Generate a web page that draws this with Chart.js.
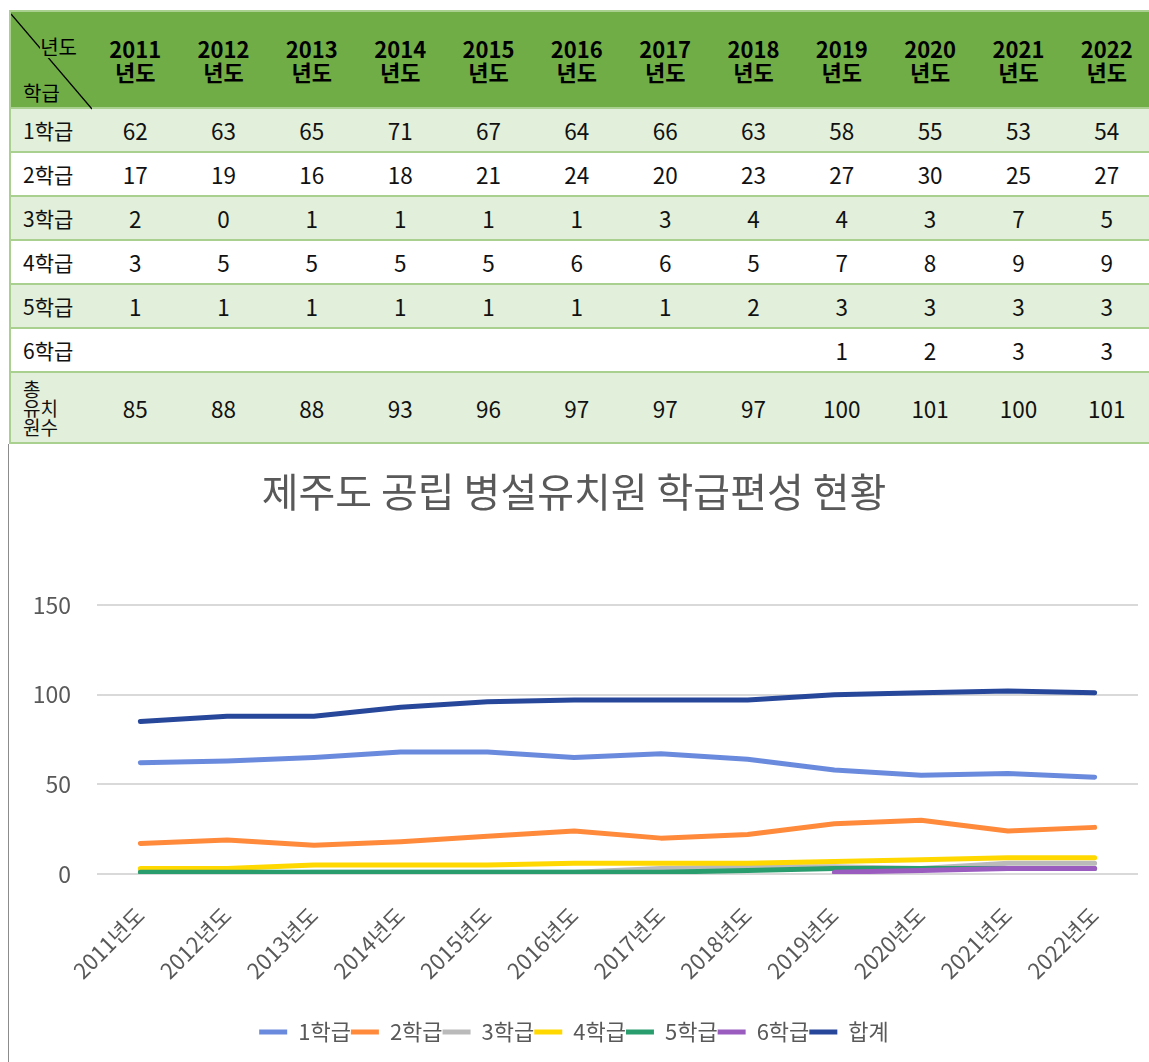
<!DOCTYPE html>
<html lang="ko">
<head>
  <meta charset="UTF-8" />
  <title>제주도 공립 병설유치원 학급편성 현황</title>
  <script src="https://cdn.jsdelivr.net/npm/chart.js"></script>
  <style>
    body { margin: 0; background: #fff; font-family: "Noto Sans CJK KR", sans-serif; width: 1149px; height: 1062px; overflow: hidden; position: relative; }
    table { position: absolute; left: 9px; top: 10px; width: 1142px; border-collapse: collapse; table-layout: fixed; }
    td, th { padding: 0; border-top: 2px solid #a9d08e; border-bottom: 2px solid #a9d08e; font-size: 22.5px; color: #111; text-align: center; }
    table { border-left: 2px solid #a9d08e; }
    th { background: #70ad47; height: 95px; font-weight: bold; line-height: 23px; color: #000; font-size: 22px; }
    tr.g td { background: #e2efda; }
    td { height: 42px; }
    td.lab { text-align: left; padding-left: 12px; font-size: 21px; }
    tr.tot td { height: 69px; }
    td.stack { font-size: 19px; line-height: 19px; }
    th.corner { position: relative; font-weight: normal; font-size: 20px; }
    th.corner svg { position: absolute; left: 0; top: 0; }
    th.corner .yr { position: absolute; right: 14px; top: 24px; background: #70ad47; line-height: 22px; }
    th.corner .cls { position: absolute; left: 12px; top: 70px; line-height: 22px; }
    #frame { position: absolute; left: 8px; top: 444px; width: 1141px; height: 618px; border-left: 1px solid #8c8c8c; }
    #chart { position: absolute; left: 1px; top: 0; }
  </style>
</head>
<body>
  <table id="tbl">
    <colgroup><col style="width:81px"></colgroup>
    <thead><tr id="head"><th class="corner">
      <svg width="81" height="98"><line x1="0" y1="2" x2="81" y2="97" stroke="#000" stroke-width="1.2"/></svg>
      <span class="yr">년도</span><span class="cls">학급</span>
    </th></tr></thead>
    <tbody id="body"></tbody>
  </table>

  <div id="frame"><canvas id="chart" width="1140" height="618"></canvas></div>

  <script>
    // 표와 그래프 값
    const years = ['2011', '2012', '2013', '2014', '2015', '2016', '2017', '2018', '2019', '2020', '2021', '2022'];
    const rowNames = ['1학급', '2학급', '3학급', '4학급', '5학급', '6학급', '총\n유치\n원수'];
    const tab1 = [62, 63, 65, 71, 67, 64, 66, 63, 58, 55, 53, 54];
    const tab2 = [17, 19, 16, 18, 21, 24, 20, 23, 27, 30, 25, 27];
    const tab3 = [2, 0, 1, 1, 1, 1, 3, 4, 4, 3, 7, 5];
    const tab4 = [3, 5, 5, 5, 5, 6, 6, 5, 7, 8, 9, 9];
    const tab5 = [1, 1, 1, 1, 1, 1, 1, 2, 3, 3, 3, 3];
    const tab6 = ['', '', '', '', '', '', '', '', 1, 2, 3, 3];
    const tabTotal = [85, 88, 88, 93, 96, 97, 97, 97, 100, 101, 100, 101];

    // 그래프에 그려진 값
    const chartTitle = '제주도 공립 병설유치원 학급편성 현황';
    const xLabels = years.map(y => y + '년도');
    const seriesNames = ['1학급', '2학급', '3학급', '4학급', '5학급', '6학급', '합계'];
    const line1 = [62, 63, 65, 68, 68, 65, 67, 64, 58, 55, 56, 54];
    const line2 = [17, 19, 16, 18, 21, 24, 20, 22, 28, 30, 24, 26];
    const line3 = [2, 0, 1, 1, 1, 1, 3, 4, 4, 3, 6, 6];
    const line4 = [3, 3, 5, 5, 5, 6, 6, 6, 7, 8, 9, 9];
    const line5 = [1, 1, 1, 1, 1, 1, 1, 2, 3, 3, 3, 3];
    const line6 = [null, null, null, null, null, null, null, null, 1, 2, 3, 3];
    const lineTotal = [85, 88, 88, 93, 96, 97, 97, 97, 100, 101, 102, 101];
    const yTicks = [0, 50, 100, 150];
    const colors = ['#6a8bdd', '#ff8a3c', '#bababa', '#ffd800', '#2a9d6f', '#9b5cc0', '#27479a'];

    // 표 만들기
    const head = document.getElementById('head');
    years.forEach(y => {
      const th = document.createElement('th');
      th.innerHTML = y + '<br>년도';
      head.appendChild(th);
    });
    const tabRows = [tab1, tab2, tab3, tab4, tab5, tab6, tabTotal];
    const tbody = document.getElementById('body');
    tabRows.forEach((vals, i) => {
      const tr = document.createElement('tr');
      if (i % 2 === 0) tr.className = 'g';
      if (i === 6) tr.className += ' tot';
      const lab = document.createElement('td');
      lab.className = 'lab' + (i === 6 ? ' stack' : '');
      lab.innerHTML = rowNames[i].replace(/\n/g, '<br>');
      tr.appendChild(lab);
      vals.forEach(v => {
        const td = document.createElement('td');
        td.textContent = v;
        tr.appendChild(td);
      });
      tbody.appendChild(tr);
    });

    // 그래프
    Chart.defaults.font.family = '"Noto Sans CJK KR", sans-serif';
    Chart.defaults.color = '#595959';
    const lines = [line1, line2, line3, line4, line5, line6, lineTotal];

    new Chart(document.getElementById('chart'), {
      type: 'line',
      data: {
        labels: xLabels,
        datasets: lines.map((d, i) => ({
          label: seriesNames[i],
          data: d,
          borderColor: colors[i],
          backgroundColor: colors[i],
          borderWidth: 5,
          borderCapStyle: 'round',
          borderJoinStyle: 'round',
          pointRadius: 0,
          tension: 0,
          order: lines.length - i
        }))
      },
      options: {
        responsive: false,
        animation: false,
        layout: { padding: { left: 0, right: 12, top: 0, bottom: 9 } },
        plugins: {
          title: {
            display: true,
            text: chartTitle,
            color: '#595959',
            font: { size: 40, weight: 'normal' },
            padding: { top: 24, bottom: 89 }
          },
          legend: {
            position: 'bottom',
            labels: {
              usePointStyle: true,
              pointStyle: 'line',
              pointStyleWidth: 28,
              padding: 0,
              color: '#595959',
              font: { size: 22 },
              sort: (a, b) => a.datasetIndex - b.datasetIndex
            }
          },
          tooltip: { enabled: false }
        },
        scales: {
          x: {
            offset: true,
            grid: { display: false },
            border: { display: false },
            ticks: { autoSkip: false, minRotation: 45, maxRotation: 45, font: { size: 22 }, padding: 20 },
            afterFit: s => { s.height = 147; }
          },
          y: {
            min: 0,
            max: 150,
            afterBuildTicks: s => { s.ticks = yTicks.map(v => ({ value: v })); },
            grid: { color: '#d9d9d9', lineWidth: 2, drawTicks: false },
            border: { display: false },
            ticks: { font: { size: 23 }, padding: 26 },
            afterFit: s => { s.width = 87; }
          }
        }
      }
    });
  </script>
</body>
</html>
